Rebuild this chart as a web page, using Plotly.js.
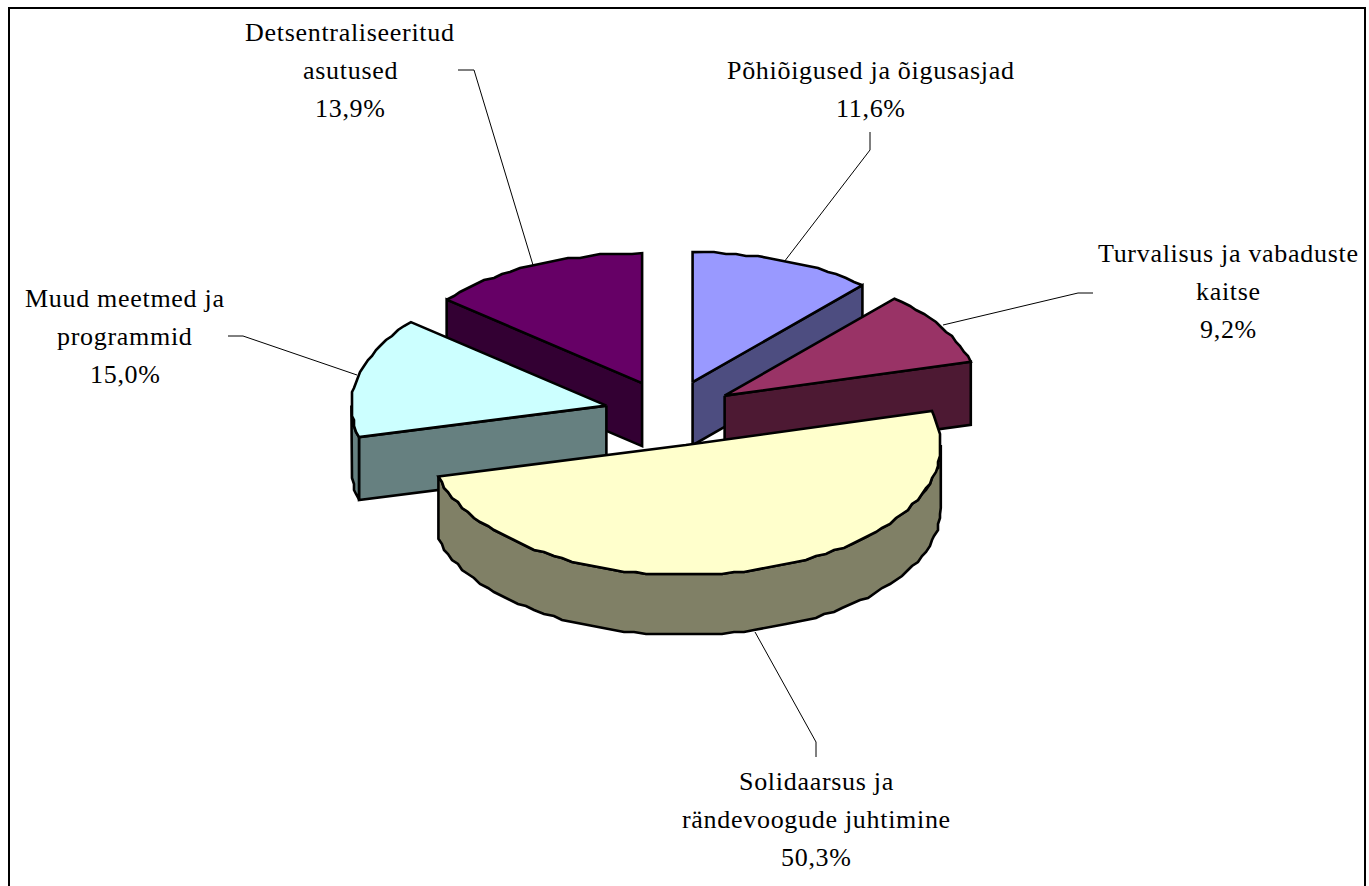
<!DOCTYPE html>
<html>
<head>
<meta charset="utf-8">
<script src="https://cdn.plot.ly/plotly-3.0.1.min.js"></script>
<style>
html,body{margin:0;padding:0;background:#fff;overflow:hidden}
#chart{width:1369px;height:886px}
.annotation-text{letter-spacing:0.7px}
</style>
</head>
<body>
<div id="chart"></div>
<script>
// ---- data ----
const categories = ["Põhiõigused ja õigusasjad","Turvalisus ja vabaduste kaitse","Solidaarsus ja rändevoogude juhtimine","Muud meetmed ja programmid","Detsentraliseeritud asutused"];
const values = [11.6, 9.2, 50.3, 15.0, 13.9];
const labelLines = [["Põhiõigused ja õigusasjad"],["Turvalisus ja vabaduste","kaitse"],["Solidaarsus ja","rändevoogude juhtimine"],["Muud meetmed ja","programmid"],["Detsentraliseeritud","asutused"]];
const topColors = ["#9999FF","#993366","#FFFFCC","#CCFFFF","#660066"];
const wallColors = ["#4D4D80","#4D1933","#808066","#668080","#330033"];

// ---- geometry of the tilted, exploded pie ----
const CX = 669.5, CY = 413, RX = 255, RY = 130, DEPTH = 63, LOWER_RY = 127, EXPLODE = 0.254, GRID = 2;
const rad = d => d * Math.PI / 180;
const total = values.reduce((a, b) => a + b, 0);
let acc = 0;
const slices = values.map((v, i) => {
  const a0 = acc / total * 360; acc += v; const a1 = acc / total * 360;
  const mid = rad((a0 + a1) / 2);
  return {i, a0, a1, ax: CX + EXPLODE * RX * Math.sin(mid), ay: CY - EXPLODE * RY * Math.cos(mid)};
});
function rim(s, from, to, ry, dy) {
  const n = Math.max(2, Math.ceil((to - from) / 2.5)), pts = [];
  for (let k = 0; k <= n; k++) {
    const t = rad(from + (to - from) * k / n);
    let x = s.ax + RX * Math.sin(t), y = s.ay + dy - ry * Math.cos(t);
    if (k > 0 && k < n) { x = Math.round(x / GRID) * GRID; y = Math.round(y / GRID) * GRID; }
    pts.push([x, y]);
  }
  return pts;
}
function poly(pts, color, name) {
  return {type: "scatter", mode: "lines", x: pts.map(p => p[0]).concat(pts[0][0]), y: pts.map(p => p[1]).concat(pts[0][1]),
    fill: "toself", fillcolor: color, line: {color: "#000", width: 2.6, shape: "linear"}, name, hoverinfo: "name", showlegend: false};
}

const traces = [];
[4, 0, 1, 3, 2].forEach(i => {
  const s = slices[i], name = categories[i], apex = [s.ax, s.ay];
  const edge = a => [s.ax + RX * Math.sin(rad(a)), s.ay - RY * Math.cos(rad(a))];
  const midA = (s.a0 + s.a1) / 2;
  // radial walls that face the viewer
  [s.a0, s.a1].forEach(a => {
    const e = edge(a);
    if (Math.abs(e[0] - s.ax) < 1) return;
    const tx = e[0] - s.ax, ty = e[1] - s.ay;
    const m = edge(midA);
    const lineYAtM = s.ay + ty * (m[0] - s.ax) / tx;
    if (m[1] < lineYAtM) traces.push(poly([apex, e, [e[0], e[1] + DEPTH], [s.ax, s.ay + DEPTH]], wallColors[i], name));
  });
  // outer wall: front half of the rim only
  const from = Math.max(s.a0, 90), to = Math.min(s.a1, 270);
  if (to > from) {
    const r = rim(s, from, to, RY, 0);
    const low = rim(s, from, to, LOWER_RY, DEPTH);
    traces.push(poly(r.concat(low.reverse()), wallColors[i], name));
  }
  // top face
  traces.push(poly([apex].concat(rim(s, s.a0, s.a1, RY, 0)), topColors[i], name));
});

// ---- leader lines and labels ----
const leaderX = [[870,870,784],[1093,1078,943],[816,816,755],[228,243,357],[458,474,533]];
const leaderY = [[132,150,262],[293,293,325],[757,742,632],[336,336,375],[70,70,265]];
leaderX.forEach((lx, i) => traces.unshift({type: "scatter", mode: "lines", x: lx, y: leaderY[i],
  line: {color: "#000", width: 1}, hoverinfo: "skip", showlegend: false}));

const labelX = [871, 1228, 816, 125, 350];
const labelY = [70, 253, 781, 298, 32];
const LINE = 38;
const annotations = [];
labelLines.forEach((lines, i) => {
  const pct = values[i].toFixed(1).replace(".", ",") + "%";
  lines.concat(pct).forEach((t, k) => annotations.push({
    x: labelX[i], y: labelY[i] + k * LINE, xref: "x", yref: "y", text: t, showarrow: false,
    xanchor: "center", yanchor: "middle", font: {family: "Liberation Serif", size: 26, color: "#000"}
  }));
});

const frameStyle = {color: "#000", width: 2};
const layout = {
  width: 1369, height: 886, margin: {l: 0, r: 0, t: 0, b: 0},
  paper_bgcolor: "#fff", plot_bgcolor: "#fff", showlegend: false,
  xaxis: {range: [0, 1369], visible: false, fixedrange: true},
  yaxis: {range: [886, 0], visible: false, fixedrange: true},
  annotations,
  shapes: [
    {type: "line", xref: "x", yref: "y", x0: 9, x1: 9, y0: 8, y1: 886, line: frameStyle},
    {type: "line", xref: "x", yref: "y", x0: 8, x1: 1366, y0: 8, y1: 8, line: frameStyle},
    {type: "line", xref: "x", yref: "y", x0: 1365, x1: 1365, y0: 8, y1: 886, line: frameStyle}
  ]
};
Plotly.newPlot("chart", traces, layout, {displayModeBar: false, staticPlot: true});
</script>
</body>
</html>
